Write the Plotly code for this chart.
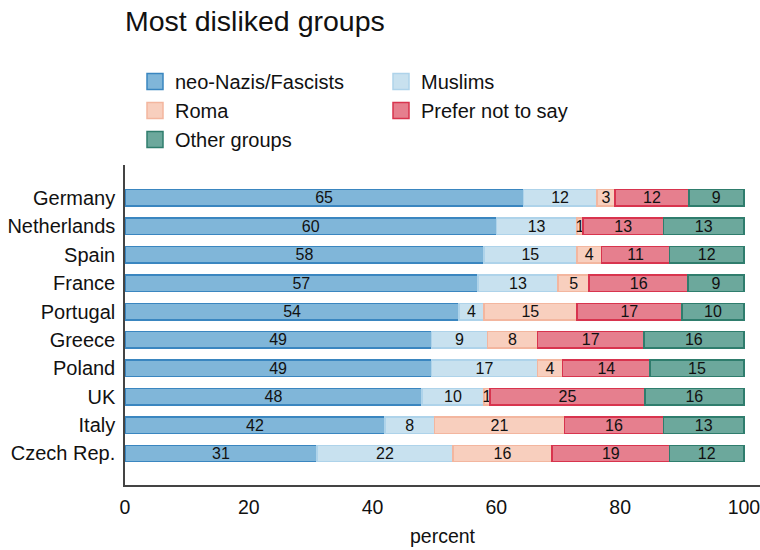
import plotly.graph_objects as go

countries = ["Germany", "Netherlands", "Spain", "France", "Portugal",
             "Greece", "Poland", "UK", "Italy", "Czech Rep."]
series_names = ["neo-Nazis/Fascists", "Muslims", "Roma", "Prefer not to say", "Other groups"]
neo_nazis = [65, 60, 58, 57, 54, 49, 49, 48, 42, 31]
muslims = [12, 13, 15, 13, 4, 9, 17, 10, 8, 22]
roma = [3, 1, 4, 5, 15, 8, 4, 1, 21, 16]
prefer_not = [12, 13, 11, 16, 17, 17, 14, 25, 16, 19]
other_groups = [9, 13, 12, 9, 10, 16, 15, 16, 13, 12]
x_ticks = [0, 20, 40, 60, 80, 100]

series_values = [neo_nazis, muslims, roma, prefer_not, other_groups]
fills = ["#80B6D9", "#C8E1EF", "#F8CFBE", "#E67F8E", "#6CA89C"]
lines = ["#3A86C0", "#AED3EA", "#F3B69F", "#D8344E", "#2F7D6D"]

FONT = "Liberation Sans, Arial, sans-serif"

fig = go.Figure()
for name, vals, fc, lc in zip(series_names, series_values, fills, lines):
    fig.add_trace(go.Bar(
        y=countries, x=vals, orientation="h", name=name,
        marker=dict(color=fc, line=dict(color=lc, width=1.5)),
        text=[str(v) for v in vals], textposition="inside", textangle=0,
        insidetextanchor="middle",
        textfont=dict(size=16, color="#111111", family=FONT),
        width=0.58, showlegend=False, hoverinfo="skip",
    ))
for name, fc, lc in zip(series_names, fills, lines):
    fig.add_trace(go.Scatter(
        x=[None], y=[None], mode="markers", name=name,
        marker=dict(symbol="square", size=16, color=fc, line=dict(color=lc, width=1.5)),
        showlegend=True,
    ))

fig.update_layout(
    width=760, height=550,
    template="none",
    barmode="stack", barnorm="percent",
    paper_bgcolor="white", plot_bgcolor="white",
    margin=dict(l=125, r=0, t=165, b=65),
    font=dict(family=FONT, size=19, color="#111111"),
    title=dict(text="Most disliked groups", font=dict(size=28.5, color="#111111", family=FONT),
               x=125 / 760, xref="container", xanchor="left",
               y=1 - 21 / 550, yref="container", yanchor="middle"),
    legend=dict(orientation="h", x=10 / 635, xanchor="left", y=1 - 62 / 550, yref="container",
                yanchor="top", entrywidth=201, entrywidthmode="pixels",
                traceorder="normal",
                font=dict(size=20, color="#111111"), bgcolor="rgba(0,0,0,0)",
                tracegroupgap=0),
    uniformtext=dict(minsize=16, mode="show"),
    xaxis=dict(range=[0, 102.6], tickvals=x_ticks, ticktext=[str(t) for t in x_ticks],
               showgrid=False, zeroline=False, showline=True, linecolor="#444444",
               linewidth=1.5, ticks="", ticklabelstandoff=4, automargin=False,
               ticklabeloverflow="allow",
               title=dict(text="percent", standoff=12, font=dict(size=19.5)),
               tickfont=dict(size=19.5)),
    yaxis=dict(categoryorder="array", categoryarray=countries,
               range=[9 + 1.11, -1.16], showgrid=False, zeroline=False,
               showline=True, linecolor="#444444", linewidth=1.5, ticks="",
               ticklabelstandoff=4, automargin=False, tickfont=dict(size=20)),
)

fig.write_html("out.html")
